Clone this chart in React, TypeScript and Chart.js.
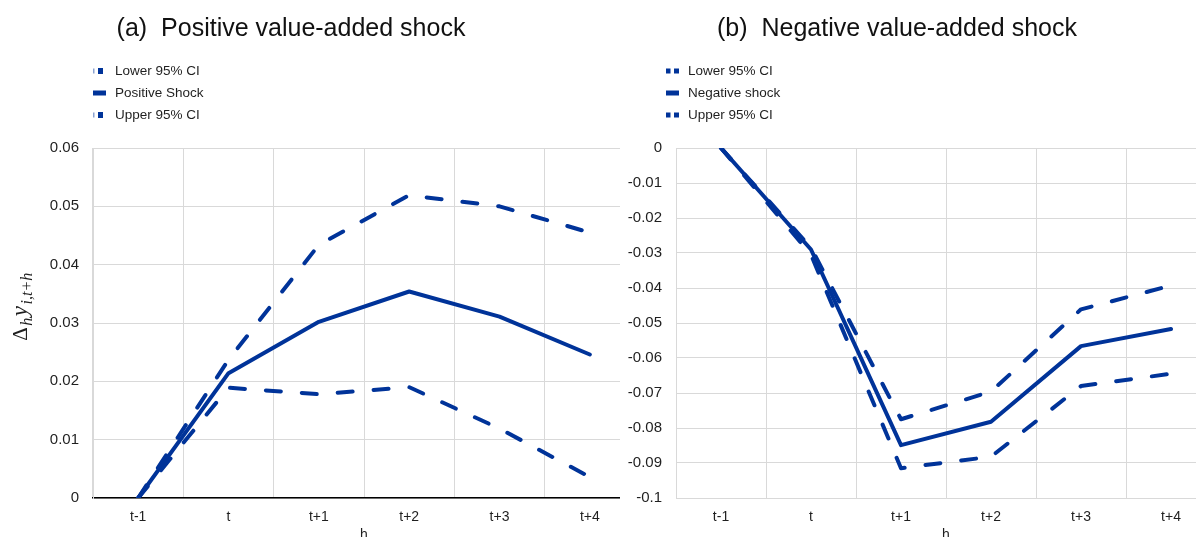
import React, { useEffect, useRef } from "react";
import { Chart, registerables } from "chart.js";

Chart.register(...registerables);

// ---------- data ----------
const categories = ["t-1", "t", "t+1", "t+2", "t+3", "t+4"];

const posLower = [0, 0.0189, 0.0178, 0.019, 0.0119, 0.0036];
const posShock = [0, 0.0214, 0.0302, 0.0354, 0.0311, 0.0246];
const posUpper = [0, 0.0237, 0.0434, 0.0519, 0.05, 0.0455];

const negLower = [0, -0.0305, -0.0915, -0.0882, -0.068, -0.0645];
const negShock = [0, -0.029, -0.0849, -0.0782, -0.0566, -0.0517];
const negUpper = [0, -0.0285, -0.0775, -0.0696, -0.0461, -0.0393];

const posLegend = ["Lower 95% CI", "Positive Shock", "Upper 95% CI"];
const negLegend = ["Lower 95% CI", "Negative shock", "Upper 95% CI"];

const posTitle = "(a)  Positive value-added shock";
const negTitle = "(b)  Negative value-added shock";

const posRange = [0, 0.06];
const negRange = [-0.1, 0];
const tickStep = 0.01;
const xTitle = "h";

// ---------- style ----------
const BLUE = "#003399";
const GRID = "#d9d9d9";
const TEXT = "#1f1f1f";
const FONT = "'Liberation Sans', Arial, sans-serif";
const DASH = [15, 21];

type Props = {
  left: number;
  width: number;
  yWidth: number;
  padRight: number;
  range: number[];
  lower: number[];
  shock: number[];
  upper: number[];
  legend: string[];
  title: string;
  titleX: number;
  legendX: number;
  legendStyle: "a" | "b";
  xBorderColor: string;
  xBorderWidth: number;
  yLabel: boolean;
};

function ShockChart(p: Props) {
  const ref = useRef<HTMLCanvasElement>(null);

  useEffect(() => {
    const decor = {
      id: "decor",
      afterDraw(chart: any) {
        const ctx = chart.ctx as CanvasRenderingContext2D;
        ctx.save();
        // title
        ctx.fillStyle = "#111";
        ctx.font = `25px ${FONT}`;
        ctx.textAlign = "center";
        ctx.textBaseline = "middle";
        ctx.fillText(p.title, p.titleX, 29);

        // legend
        ctx.font = `13.5px ${FONT}`;
        ctx.textAlign = "left";
        p.legend.forEach((label, i) => {
          const cy = 71 + i * 22;
          const x0 = p.legendX;
          ctx.fillStyle = BLUE;
          if (i === 1) {
            ctx.fillRect(x0, cy - 2.5, 13, 5);
          } else if (p.legendStyle === "a") {
            ctx.globalAlpha = 0.45;
            ctx.fillRect(x0, cy - 2.5, 1.5, 5);
            ctx.globalAlpha = 1;
            ctx.fillRect(x0 + 5, cy - 3, 5, 6);
          } else {
            ctx.fillRect(x0, cy - 2.5, 4.5, 5);
            ctx.fillRect(x0 + 8, cy - 2.5, 5, 5);
          }
          ctx.fillStyle = TEXT;
          ctx.fillText(label, x0 + 22, cy);
        });

        // y label  Δ_h y_{i,t+h}
        if (p.yLabel) {
          const parts = [
            { t: "Δ", f: `21px 'Liberation Serif', serif`, dy: 0 },
            { t: "h", f: `italic 16px 'Liberation Serif', serif`, dy: 5 },
            { t: "y", f: `italic 23px 'Liberation Serif', serif`, dy: 0 },
            { t: "i,t+h", f: `italic 16px 'Liberation Serif', serif`, dy: 5 },
          ];
          let total = 0;
          const widths = parts.map((pt) => {
            ctx.font = pt.f;
            const w = ctx.measureText(pt.t).width + 1.5;
            total += w;
            return w;
          });
          ctx.translate(27, 306);
          ctx.rotate(-Math.PI / 2);
          ctx.textAlign = "left";
          ctx.textBaseline = "alphabetic";
          ctx.fillStyle = TEXT;
          let x = -total / 2;
          parts.forEach((pt, i) => {
            ctx.font = pt.f;
            ctx.fillText(pt.t, x, pt.dy);
            x += widths[i];
          });
        }
        ctx.restore();
      },
    };

    const line = (label: string, data: number[], dashed: boolean) => ({
      label,
      data,
      borderColor: BLUE,
      backgroundColor: BLUE,
      borderWidth: 4,
      borderDash: dashed ? DASH : [],
      borderCapStyle: "round" as const,
      borderJoinStyle: "round" as const,
      pointRadius: 0,
      tension: 0,
      fill: false,
    });

    const chart = new Chart(ref.current!, {
      type: "line",
      data: {
        labels: categories,
        datasets: [
          line(p.legend[0], p.lower, true),
          line(p.legend[1], p.shock, false),
          line(p.legend[2], p.upper, true),
        ],
      },
      options: {
        responsive: false,
        animation: false,
        devicePixelRatio: 1,
        layout: { padding: { top: 148, right: p.padRight, left: 0, bottom: 0 } },
        plugins: {
          legend: { display: false },
          title: { display: false },
          tooltip: { enabled: false },
        },
        scales: {
          x: {
            type: "category",
            offset: true,
            grid: { offset: true, color: GRID, lineWidth: 1, drawTicks: false },
            border: { color: p.xBorderColor, width: p.xBorderWidth },
            ticks: { padding: 11, color: TEXT, font: { family: FONT, size: 14 }, maxRotation: 0, autoSkip: false },
            title: { display: true, text: xTitle, padding: 0, color: TEXT, font: { family: FONT, size: 14 } },
            afterFit: (s: any) => {
              s.height = 46;
            },
          },
          y: {
            type: "linear",
            min: p.range[0],
            max: p.range[1],
            grid: { color: GRID, lineWidth: 1, drawTicks: false },
            border: { color: GRID, width: 1 },
            ticks: {
              stepSize: tickStep,
              padding: 14,
              color: TEXT,
              font: { family: FONT, size: 15 },
              callback: (v: any) => String(+Number(v).toFixed(4)),
            },
            afterFit: (s: any) => {
              s.width = p.yWidth;
            },
          },
        },
      },
      plugins: [decor],
    });
    return () => chart.destroy();
  }, []);

  return (
    <canvas
      ref={ref}
      width={p.width}
      height={544}
      style={{ position: "absolute", left: p.left, top: 0, background: "#fff" }}
    />
  );
}

export default function App() {
  return (
    <div
      style={{
        position: "fixed",
        left: 0,
        top: 0,
        width: 1196,
        height: 537,
        overflow: "hidden",
        background: "#fff",
      }}
    >
      <ShockChart
        left={0}
        width={640}
        yWidth={93}
        padRight={5}
        range={posRange}
        lower={posLower}
        shock={posShock}
        upper={posUpper}
        legend={posLegend}
        title={posTitle}
        titleX={291}
        legendX={93}
        legendStyle="a"
        xBorderColor="#000"
        xBorderWidth={1.5}
        yLabel={true}
      />
      <ShockChart
        left={620}
        width={600}
        yWidth={56}
        padRight={4}
        range={negRange}
        lower={negLower}
        shock={negShock}
        upper={negUpper}
        legend={negLegend}
        title={negTitle}
        titleX={277}
        legendX={46}
        legendStyle="b"
        xBorderColor={GRID}
        xBorderWidth={1}
        yLabel={false}
      />
    </div>
  );
}
